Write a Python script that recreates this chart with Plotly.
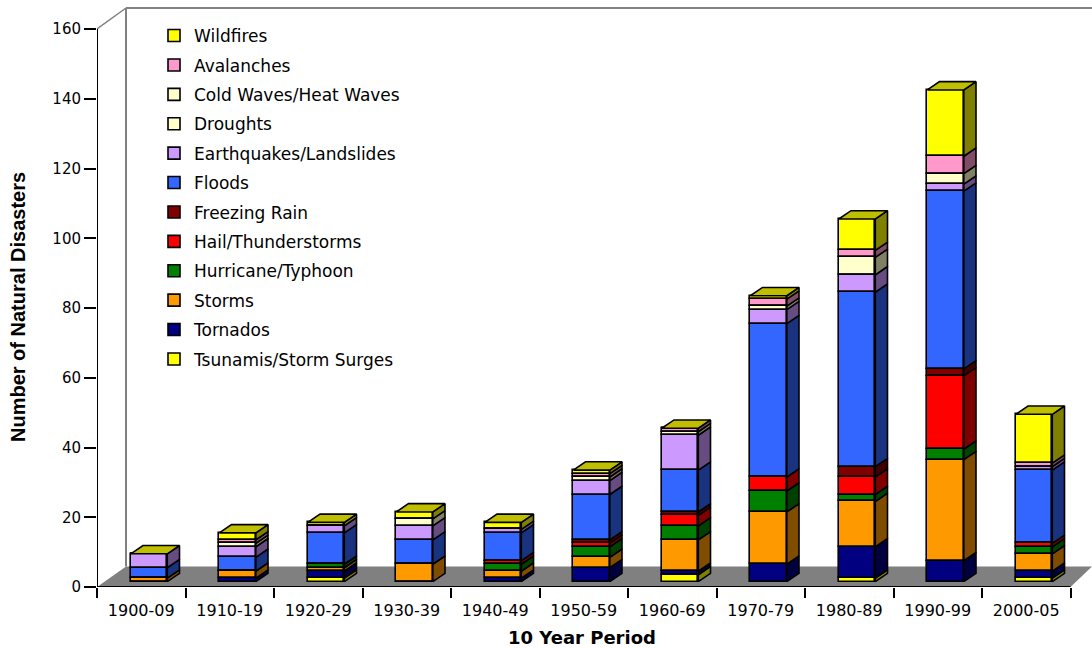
import plotly.graph_objects as go

periods = ["1900-09", "1910-19", "1920-29", "1930-39", "1940-49", "1950-59",
           "1960-69", "1970-79", "1980-89", "1990-99", "2000-05"]

tsunamis    = [0, 0, 1, 0, 0, 0, 2, 0, 1, 0, 1]
tornados    = [0, 1, 2, 0, 1, 4, 1, 5, 9, 6, 2]
storms      = [1, 2, 1, 5, 2, 3, 9, 15, 13, 29, 5]
hurricanes  = [0, 0, 1, 0, 2, 3, 4, 6, 2, 3, 2]
hail        = [0, 0, 0, 0, 1, 1, 3, 4, 5, 21, 1]
freezing    = [0, 0, 0, 0, 0, 1, 1, 0, 3, 2, 0]
floods      = [3, 4, 9, 7, 8, 13, 12, 44, 50, 51, 21]
earthquakes = [4, 3, 2, 4, 1, 4, 10, 4, 5, 2, 1]
droughts    = [0, 1, 0, 2, 0, 1, 1, 1, 0, 3, 0]
coldwaves   = [0, 0, 0, 0, 0, 0, 0, 0, 5, 0, 0]
avalanches  = [0, 1, 0, 0, 0, 1, 1, 2, 2, 5, 1]
wildfires   = [0, 2, 1, 2, 2, 1, 0, 1, 9, 19, 14]

names = ["Tsunamis/Storm Surges", "Tornados", "Storms", "Hurricane/Typhoon",
         "Hail/Thunderstorms", "Freezing Rain", "Floods", "Earthquakes/Landslides",
         "Droughts", "Cold Waves/Heat Waves", "Avalanches", "Wildfires"]
values = [tsunamis, tornados, storms, hurricanes, hail, freezing, floods,
          earthquakes, droughts, coldwaves, avalanches, wildfires]
colors = [(255, 255, 0), (0, 0, 128), (255, 153, 0), (0, 128, 0), (255, 0, 0), (128, 0, 0),
          (51, 102, 255), (204, 153, 255), (255, 255, 204), (255, 255, 204),
          (255, 153, 204), (255, 255, 0)]
y_ticks = list(range(0, 161, 20))

# Pixel geometry of the oblique projection
PX_X = 88.5
PX_Y = 3.4875
LEFT, BOTTOM, TOP, RIGHT = 97, 587, 6, 1092
WALL_TOP = 8
BAR_W = 36.5 / PX_X
BAR_SHIFT = 7.8 / PX_X
DX = 12.2 / PX_X
DY = 8.3 / PX_Y
BASE = 5.3 / PX_Y
WALL_DX = 29 / PX_X
WALL_DY = 20.5 / PX_Y
XMAX = (RIGHT - LEFT) / PX_X
YMAX = (BOTTOM - TOP) / PX_Y
YWALL = (BOTTOM - WALL_TOP) / PX_Y
N = len(periods)
FONT = "Liberation Sans"
WIDE = "DejaVu Sans"


def rgb(c, k=1.0):
    return "rgb(%d,%d,%d)" % tuple(round(v * k) for v in c)


xs = [i + 0.5 + BAR_SHIFT for i in range(N)]
bases = []
running = [BASE] * N
for series in values:
    bases.append(list(running))
    running = [r + v for r, v in zip(running, series)]
tops = running

fig = go.Figure()

# side faces
for name, series, base, c in zip(names, values, bases, colors):
    px, py = [], []
    for x, v, b in zip(xs, series, base):
        if v <= 0:
            continue
        xr = x + BAR_W / 2
        px += [xr, xr + DX, xr + DX, xr, xr, None]
        py += [b, b + DY, b + v + DY, b + v, b, None]
    fig.add_trace(go.Scatter(x=px, y=py, mode="lines", fill="toself", fillcolor=rgb(c, 0.5),
                             line=dict(color="black", width=1.6), showlegend=False,
                             hoverinfo="skip"))

# top faces
px, py = [], []
for x, t in zip(xs, tops):
    xl, xr = x - BAR_W / 2, x + BAR_W / 2
    px += [xl, xr, xr + DX, xl + DX, xl, None]
    py += [t, t, t + DY, t + DY, t, None]
fig.add_trace(go.Scatter(x=px, y=py, mode="lines", fill="toself", fillcolor=rgb(colors[-1], 0.75),
                         line=dict(color="black", width=1.6), showlegend=False, hoverinfo="skip"))

# front faces, legend order is top of the stack first
for name, series, base, c in reversed(list(zip(names, values, bases, colors))):
    fig.add_trace(go.Bar(x=xs, y=series, base=base, width=BAR_W, name=name, legendgroup=name,
                         marker=dict(color=rgb(c), line=dict(color="black", width=1.6))))

# floor, walls and axis lines
shapes = [
    dict(type="path", layer="below", xref="x", yref="y", fillcolor="rgb(128,128,128)",
         line=dict(width=0),
         path=f"M0,0 L{N},0 L{XMAX},{WALL_DY} L{WALL_DX},{WALL_DY} Z"),
    dict(type="line", layer="below", x0=WALL_DX, x1=WALL_DX, y0=WALL_DY, y1=YWALL,
         line=dict(color="rgb(128,128,128)", width=2)),
    dict(type="line", layer="below", x0=WALL_DX, x1=XMAX, y0=YWALL, y1=YWALL,
         line=dict(color="rgb(128,128,128)", width=2)),
    dict(type="line", layer="below", x0=0, x1=WALL_DX, y0=160, y1=YWALL,
         line=dict(color="rgb(128,128,128)", width=1.5)),
    dict(type="line", layer="below", x0=0, x1=0, y0=0, y1=160,
         line=dict(color="black", width=2)),
    dict(type="line", layer="below", x0=0, x1=N, y0=0, y1=0,
         line=dict(color="black", width=2)),
]

W, H = 1092, 649
fig.update_layout(
    width=W, height=H, barmode="overlay", bargap=0,
    margin=dict(l=LEFT, r=W - RIGHT, t=TOP, b=H - BOTTOM, autoexpand=False),
    paper_bgcolor="white", plot_bgcolor="white",
    font=dict(family=WIDE, color="black", size=16),
    shapes=shapes,
    legend=dict(x=(154 - LEFT) / (RIGHT - LEFT), y=(BOTTOM - 18) / (BOTTOM - TOP),
                xanchor="left", yanchor="top", traceorder="grouped", tracegroupgap=4.3,
                bgcolor="rgba(0,0,0,0)", font=dict(size=17, family=WIDE), itemclick=False),
    xaxis=dict(range=[0, XMAX], tickmode="array", tickvals=[i + 0.5 for i in range(N)],
               ticktext=periods, ticks="outside", ticklen=9, tickcolor="rgba(0,0,0,0)",
               tickfont=dict(size=16, family=WIDE), showgrid=False, zeroline=False, showline=False,
               minor=dict(tickmode="array", tickvals=list(range(N + 1)), ticks="outside",
                          ticklen=10, tickcolor="black", tickwidth=1.5, showgrid=False)),
    yaxis=dict(range=[0, YMAX], tickmode="array", tickvals=y_ticks, ticks="outside", ticklen=12,
               tickcolor="black", tickwidth=1.5, tickfont=dict(size=15, family=WIDE),
               showgrid=False, zeroline=False, showline=False),
    annotations=[
        dict(text="<b>10 Year Period</b>", xref="paper", yref="paper", showarrow=False,
             x=(582 - LEFT) / (RIGHT - LEFT), y=(BOTTOM - 637) / (BOTTOM - TOP),
             xanchor="center", yanchor="middle", font=dict(size=18, family=WIDE)),
        dict(text="<b>Number of Natural Disasters</b>", xref="paper", yref="paper", showarrow=False,
             x=(18 - LEFT) / (RIGHT - LEFT), y=(BOTTOM - 307) / (BOTTOM - TOP), textangle=-90,
             xanchor="center", yanchor="middle", font=dict(size=20, family=FONT)),
    ],
)

fig.write_html("out.html", config=dict(displayModeBar=False),
               post_script="document.body.style.margin='0';")
